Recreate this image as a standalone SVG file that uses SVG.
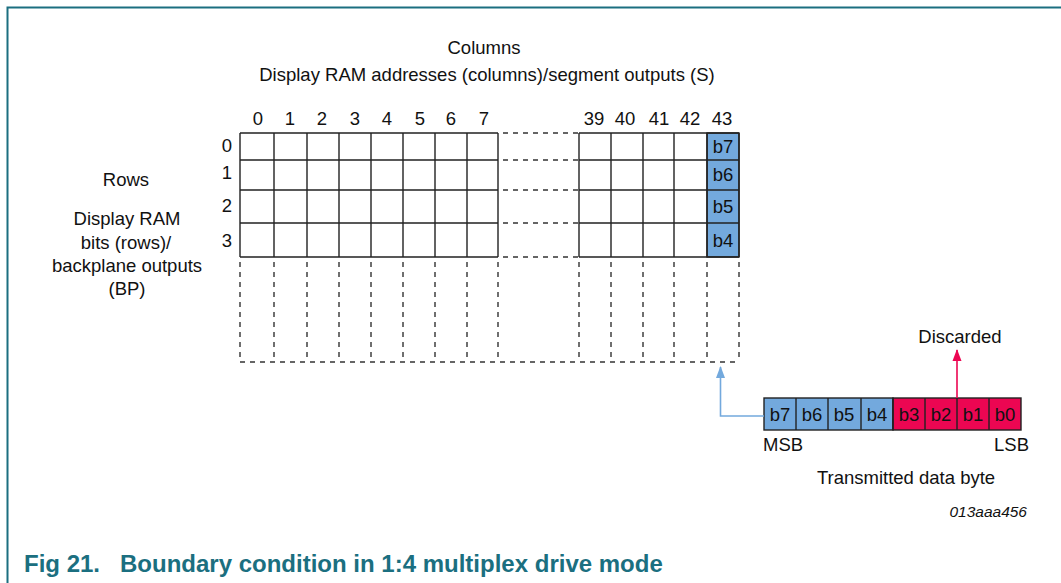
<svg xmlns="http://www.w3.org/2000/svg" width="1061" height="583" viewBox="0 0 1061 583">
<defs>
<style>
text{font-family:"Liberation Sans",Arial,sans-serif;font-size:18.5px;fill:#111}
.c{text-anchor:middle}
.g{stroke:#222;stroke-width:1.4;fill:none}
.d{stroke:#333;stroke-width:1.4;stroke-dasharray:5,5;fill:none}
.blue{fill:#73A9DD;stroke:#222;stroke-width:1.4}
.red{fill:#EC0652;stroke:#222;stroke-width:1.4}
</style>
<marker id="ab" markerWidth="12" markerHeight="10" refX="11" refY="5" orient="auto" markerUnits="userSpaceOnUse" viewBox="0 0 12 10"><path d="M0,0.5 L12,5 L0,9.5 Z" fill="#73A9DD"/></marker>
<marker id="ar" markerWidth="12" markerHeight="10" refX="11" refY="5" orient="auto" markerUnits="userSpaceOnUse" viewBox="0 0 12 10"><path d="M0,0.5 L12,5 L0,9.5 Z" fill="#EC0652"/></marker>
</defs>
<rect width="1061" height="583" fill="#fff"/>
<path d="M7.5,583 V7.5 H1061" fill="none" stroke="#1B6F80" stroke-width="2"/>

<g id="header">
<text class="c" x="484" y="54">Columns</text>
<text class="c" x="487" y="81">Display RAM addresses (columns)/segment outputs (S)</text>
</g>

<g id="col-labels">
<text class="c" x="258" y="125">0</text>
<text class="c" x="290" y="125">1</text>
<text class="c" x="322" y="125">2</text>
<text class="c" x="355" y="125">3</text>
<text class="c" x="387" y="125">4</text>
<text class="c" x="420" y="125">5</text>
<text class="c" x="451" y="125">6</text>
<text class="c" x="484" y="125">7</text>
<text class="c" x="594" y="125">39</text>
<text class="c" x="625" y="125">40</text>
<text class="c" x="659" y="125">41</text>
<text class="c" x="690" y="125">42</text>
<text class="c" x="722" y="125">43</text>
</g>

<g id="row-labels">
<text class="c" x="227" y="152">0</text>
<text class="c" x="227" y="179">1</text>
<text class="c" x="227" y="212">2</text>
<text class="c" x="227" y="247">3</text>
</g>

<g id="rows-title">
<text class="c" x="126" y="186">Rows</text>
<text class="c" x="127" y="225">Display RAM</text>
<text class="c" x="126" y="249">bits (rows)/</text>
<text class="c" x="127" y="272">backplane outputs</text>
<text class="c" x="127" y="295">(BP)</text>
</g>

<g id="grid">
<rect class="blue" x="707" y="133" width="32" height="124"/>
<path class="g" d="M240,133 H498 M240,160 H498 M240,190 H498 M240,223 H498 M240,257 H498
M240,133 V257 M274,133 V257 M307,133 V257 M339,133 V257 M371,133 V257 M403,133 V257 M435,133 V257 M467,133 V257 M498,133 V257
M579,133 H739 M579,160 H739 M579,190 H739 M579,223 H739 M579,257 H739
M579,133 V257 M611,133 V257 M643,133 V257 M674,133 V257 M707,133 V257 M739,133 V257"/>
<text class="c" x="723" y="153">b7</text>
<text class="c" x="723" y="181">b6</text>
<text class="c" x="723" y="213">b5</text>
<text class="c" x="723" y="247">b4</text>
<path class="d" d="M503,133 H579 M503,160 H579 M503,190 H579 M503,223 H579 M503,257 H579"/>
<path class="d" d="M240,262 V362 M274,262 V362 M307,262 V362 M339,262 V362 M371,262 V362 M403,262 V362 M435,262 V362 M467,262 V362 M498,262 V362 M579,262 V362 M611,262 V362 M643,262 V362 M674,262 V362 M707,262 V362 M739,262 V362 M240,362 H739"/>
</g>

<g id="byte">
<rect class="blue" x="764" y="398" width="129" height="32"/>
<rect class="red" x="893" y="398" width="128" height="32"/>
<path class="g" d="M796,398 V430 M828,398 V430 M861,398 V430 M893,398 V430 M925,398 V430 M957,398 V430 M989,398 V430"/>
<text class="c" x="780" y="421">b7</text>
<text class="c" x="812" y="421">b6</text>
<text class="c" x="844" y="421">b5</text>
<text class="c" x="877" y="421">b4</text>
<text class="c" x="909" y="421">b3</text>
<text class="c" x="941" y="421">b2</text>
<text class="c" x="973" y="421">b1</text>
<text class="c" x="1005" y="421">b0</text>
<text x="763" y="451">MSB</text>
<text x="1029" y="451" text-anchor="end">LSB</text>
<text class="c" x="906" y="484">Transmitted data byte</text>
<text class="c" x="960" y="343">Discarded</text>
</g>

<g id="connectors">
<path d="M764,416 H720.5 V367" fill="none" stroke="#73A9DD" stroke-width="1.6" marker-end="url(#ab)"/>
<path d="M957,398 V350" fill="none" stroke="#EC0652" stroke-width="1.6" marker-end="url(#ar)"/>
</g>

<g id="footer">
<text x="1027" y="517" text-anchor="end" style="font-size:15.5px;font-style:italic">013aaa456</text>
<text x="24" y="572" style="font-size:24px;font-weight:bold;fill:#1B6F80" xml:space="preserve">Fig 21.   Boundary condition in 1:4 multiplex drive mode</text>
</g>
</svg>
